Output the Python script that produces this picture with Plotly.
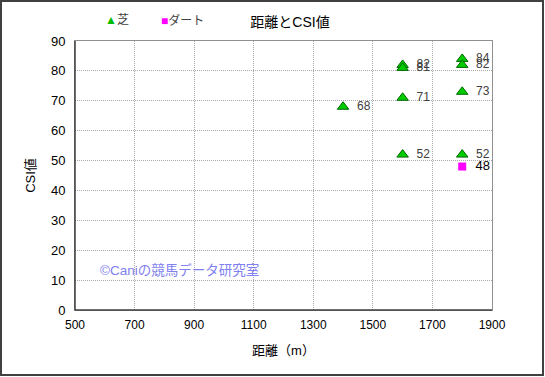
import plotly.graph_objects as go

turf_x = [1400, 1600, 1600, 1600, 1600, 1800, 1800, 1800, 1800]
turf_y = [68, 82, 81, 71, 52, 84, 82, 73, 52]
dirt_x = [1800]
dirt_y = [48]
x_ticks = [500, 700, 900, 1100, 1300, 1500, 1700, 1900]
y_ticks = list(range(0, 100, 10))

FONT = "Liberation Sans, Arial, Noto Sans CJK JP"

W, H = 545, 377
L, R, T, B = 75, 53, 41, 67
pw, ph = W - L - R, H - T - B

def px(xp):
    return (xp - L) / pw

def py(yp):
    return (H - B - yp) / ph

fig = go.Figure()
fig.add_trace(go.Scatter(
    x=turf_x, y=turf_y, name="芝", mode="markers+text",
    text=["  " + str(v) for v in turf_y], textposition="middle right",
    textfont=dict(size=12, color="#404040", family=FONT),
    marker=dict(symbol="triangle-up", size=10, color="#00cc00",
                line=dict(color="#006600", width=1)),
))
fig.add_trace(go.Scatter(
    x=dirt_x, y=dirt_y, name="ダート", mode="markers+text",
    text=["  " + str(v) for v in dirt_y], textposition="middle right",
    textfont=dict(size=13, color="#000000", family=FONT),
    marker=dict(symbol="square", size=8, color="#ff00ff",
                line=dict(color="#ff00ff", width=0)),
))

fig.update_layout(
    width=W, height=H,
    margin=dict(l=L, r=R, t=T, b=B, autoexpand=False),
    paper_bgcolor="white", plot_bgcolor="white",
    font=dict(family=FONT, size=12, color="#000000"),
    title=dict(text="距離とCSI値", x=290 / W, xanchor="center", y=1 - 22 / H,
               yanchor="middle", font=dict(size=14, color="#000000", family=FONT)),
    showlegend=False,
    xaxis=dict(range=[500, 1900], tickvals=x_ticks, ticktext=[str(v) for v in x_ticks],
               showgrid=True, gridcolor="#a8a8a8", griddash="1px,1px", gridwidth=1,
               showline=True, linecolor="#909090", linewidth=1, mirror=True,
               zeroline=False, ticks="", ticklabelstandoff=4,
               tickfont=dict(size=12, color="#000000"),
               title=dict(text="距離（m）", font=dict(size=13, color="#000000"), standoff=14)),
    yaxis=dict(range=[0, 90], tickvals=y_ticks,
               showgrid=True, gridcolor="#a8a8a8", griddash="1px,1px", gridwidth=1,
               showline=True, linecolor="#909090", linewidth=1, mirror=True,
               zeroline=False, ticks="", ticklabelstandoff=6,
               tickfont=dict(size=13, color="#000000"),
               title=dict(text="CSI値", font=dict(size=13, color="#000000"), standoff=12)),
)

# left and bottom axis lines darker
fig.add_shape(type="line", xref="paper", yref="paper", x0=0, x1=0, y0=0, y1=1,
              line=dict(color="#404040", width=1.5))
fig.add_shape(type="line", xref="paper", yref="paper", x0=0, x1=1, y0=0, y1=0,
              line=dict(color="#404040", width=1.5))

# outer frame
fig.add_shape(type="rect", xref="paper", yref="paper",
              x0=px(1), x1=px(543), y0=py(375), y1=py(1),
              line=dict(color="#404040", width=2), fillcolor="rgba(0,0,0,0)", layer="above")

# legend (compact, as in reference)
fig.add_annotation(text='<span style="color:#00bb00">▲</span>芝', xref="paper", yref="paper",
                   x=px(103), y=py(20), xanchor="left", yanchor="middle", showarrow=False,
                   font=dict(size=12, color="#404040", family=FONT))
fig.add_annotation(text='<span style="color:#ff00ff">■</span>ダート', xref="paper", yref="paper",
                   x=px(159), y=py(20), xanchor="left", yanchor="middle", showarrow=False,
                   font=dict(size=12, color="#404040", family=FONT))

# watermark
fig.add_annotation(text="©Caniの競馬データ研究室", xref="paper", yref="paper",
                   x=px(98), y=py(270), xanchor="left", yanchor="middle",
                   showarrow=False, font=dict(size=13.5, color="#8080f0", family=FONT))

fig.write_html("out.html", config={"displayModeBar": False},
               post_script="document.body.style.margin='0';")
